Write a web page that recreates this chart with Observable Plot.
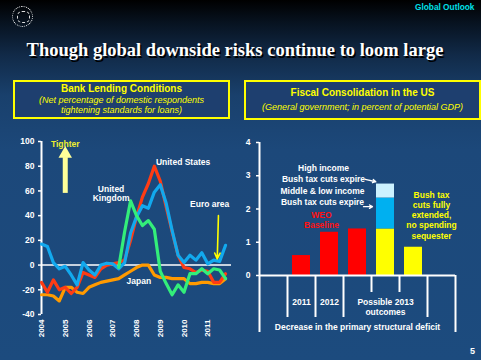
<!DOCTYPE html>
<html><head><meta charset="utf-8">
<script src="https://cdn.jsdelivr.net/npm/d3@7"></script>
<script src="https://cdn.jsdelivr.net/npm/@observablehq/plot@0.6"></script>
<style>
body{margin:0;background:#000;}
#slide{position:relative;width:481px;height:360px;overflow:hidden;
  background:linear-gradient(to bottom,#000000 0px,#07121f 22px,#112a48 55px,#19406c 95px,#1c487a 150px,#1c4b7e 360px);
  font-family:"Liberation Sans",Arial,sans-serif;color:#fff;}
.abs{position:absolute;}
#brand{left:415px;top:2px;font-size:8.3px;font-weight:bold;color:#00e0e8;white-space:nowrap;}
#logo{left:12px;top:6px;width:19px;height:19px;border:1.5px dotted #fff;border-radius:50%;}
#logo2{left:17px;top:11px;width:11px;height:10px;border:1.5px dashed #ddd;border-radius:40%;}
#title{left:0;width:470px;top:40px;text-align:center;font-family:"Liberation Serif","Times New Roman",serif;font-weight:bold;font-size:18.5px;color:#fff;text-shadow:1.5px 1.5px 0 #000;white-space:nowrap;}
.box{box-sizing:border-box;border:2px solid #ffff00;background:#1e3f6f;color:#ffff00;text-align:center;white-space:nowrap;}
.bt{font-weight:bold;font-size:10px;line-height:12px;}
.bs{font-style:italic;font-size:9px;}
#box1{left:13px;top:80px;width:217px;height:39px;}
#box1 .bt{margin-top:1px;}
#box1 .bs{line-height:10px;}
#box2{left:244px;top:80px;width:237px;height:40px;}
#box2 .bt{margin-top:5px;}
#box2 .bs{line-height:12px;margin-top:2px;}
#chart1{left:0;top:130px;}
#chart2{left:240px;top:130px;}
#page{left:470px;top:346px;font-size:9px;font-weight:bold;}
</style></head><body>
<div id="slide">
  <div id="logo" class="abs"></div><div id="logo2" class="abs"></div>
  <div id="brand" class="abs">Global Outlook</div>
  <div id="title" class="abs">Though global downside risks continue to loom large</div>
  <div id="box1" class="abs box"><div class="bt">Bank Lending Conditions</div><div class="bs">(Net percentage of domestic respondents<br>tightening standards for loans)</div></div>
  <div id="box2" class="abs box"><div class="bt">Fiscal Consolidation in the US</div><div class="bs">(General government; in percent of potential GDP)</div></div>
  <div id="chart1" class="abs"></div>
  <div id="chart2" class="abs"></div>
  <div id="page" class="abs">5</div>
</div>
<script>
// ---------- Bank lending conditions (quarterly, 2004Q1 - 2011Q4) ----------
const startYear = 2004;
const quarterStep = 0.25;
const usValues    = [-14,-22,-12,-20,-18,-23,-18,-6,-8,-10,-3,0,1,2,4,20,39,55,66,80,68,47,27,8,-2,-3,-6,-4,-5,-14,-14,-7];
const euroValues  = [17,15,2,-3,-1,-8,-16,2,-4,-8,0,1.5,1,-3,2,26,39,48,46,59,65,50,28,8,2,8,4,10,1,4,3,16];
const ukValues    = [null,null,null,null,null,null,null,null,null,null,null,null,null,-2,27,52,40,32,36,29,-5,-15,-24,-16,-22,-7,-7,-3,-7,-3,-4,-11];
const japanValues = [-24,-24,-25,-29,-18,-18,-22,-23,-18,-16,-14,-13,-12,-11,-8,-5,-2,0,0,-8,-10,-10,-11,-11,-11,-15,-15,-14,-14,-15,-15,-11];
const yearTicks = [2004,2005,2006,2007,2008,2009,2010,2011];
const lendingTicks = [-40,-20,0,20,40,60,80,100];

// ---------- Fiscal consolidation in the US ----------
const fiscalSlots = ["pre","2011","2012","baseline","expire","extended","post"];
const fiscalBarSlots  = ["2011","2012","baseline","expire","expire","expire","extended"];
const fiscalBarParts  = ["outturn","outturn","outturn","core","midlow","high","core"];
const fiscalBarValues = [0.6,1.3,1.4,1.4,0.93,0.42,0.85];
const fiscalParts = ["outturn","core","midlow","high"];
const fiscalPartColors = ["#ff0000","#ffff00","#00b0f0","#ccf2ff"];
const fiscalTicks = [0,1,2,3,4];

function rows(values){
  return values.map((v,i)=>({t:startYear+i*quarterStep, v})).filter(d=>d.v!==null);
}
const lineW = 3.2;
const font = {fontFamily:"'Liberation Sans',Arial,sans-serif",fontSize:"8.5px",fontWeight:"bold",color:"white",background:"transparent",overflow:"visible"};

const left = Plot.plot({
  width:240, height:215, marginLeft:41, marginRight:9, marginTop:11, marginBottom:31,
  style:font,
  x:{domain:[2004,2012]},
  y:{domain:[-40,100]},
  marks:[
    Plot.ruleY([0],{stroke:"white",strokeWidth:1.5}),
    Plot.ruleX([startYear],{stroke:"white",strokeWidth:2}),
    Plot.axisY({ticks:lendingTicks,tickFormat:d=>String(d),tickSize:3,tickPadding:4,label:null,strokeWidth:1.5}),
    Plot.axisX({ticks:yearTicks,tickFormat:d=>String(d),tickRotate:-90,tickSize:0,tickPadding:5,label:null,fontSize:8}),
    Plot.line(rows(japanValues),{x:"t",y:"v",stroke:"#ff9a00",strokeWidth:lineW}),
    Plot.line(rows(usValues),{x:"t",y:"v",stroke:"#ff3c14",strokeWidth:lineW}),
    Plot.line(rows(euroValues),{x:"t",y:"v",stroke:"#12a9ee",strokeWidth:lineW}),
    Plot.line(rows(ukValues),{x:"t",y:"v",stroke:"#33ee7a",strokeWidth:lineW}),
    // "Tighter" arrow
    Plot.ruleX([2005],{y1:58,y2:87,stroke:"#ffff99",strokeWidth:5}),
    Plot.dot([2005],{x:d=>d,y:90,symbol:"triangle",r:5,fill:"#ffff99",stroke:null}),
    Plot.text(["Tighter"],{x:2005,y:97.6,text:d=>d,fill:"#eeee30"}),
    Plot.text(["United States"],{x:2009.96,y:83,text:d=>d,fill:"white"}),
    Plot.text(["United\nKingdom"],{x:2006.93,y:57.7,text:d=>d,fill:"white",lineHeight:1.1}),
    Plot.text(["Euro area"],{x:2011.08,y:49.4,text:d=>d,fill:"white"}),
    Plot.text(["Japan"],{x:2008.1,y:-13.5,text:d=>d,fill:"white"}),
    Plot.arrow([0],{x1:2011.45,y1:40,x2:2011.4,y2:5,stroke:"#ffff00",strokeWidth:1.6,headLength:6,headAngle:50})
  ]
});
document.getElementById("chart1").appendChild(left);

const bars = fiscalBarValues.map((v,i)=>({slot:fiscalBarSlots[i], part:fiscalBarParts[i], value:v}));
const right = Plot.plot({
  width:241, height:210, marginLeft:19, marginRight:26, marginTop:12, marginBottom:65,
  style:font,
  x:{domain:fiscalSlots,padding:0},
  y:{domain:[0,4]},
  color:{domain:fiscalParts,range:fiscalPartColors},
  marks:[
    Plot.barY(bars,{x:"slot",y:"value",fill:"part",insetLeft:5,insetRight:5}),
    Plot.ruleY([0],{stroke:"white",strokeWidth:2}),
    Plot.ruleX(["pre"],{x:d=>d,dx:-14,stroke:"white",strokeWidth:2}),
    Plot.axisY({ticks:fiscalTicks,tickFormat:d=>String(d),tickSize:3,tickPadding:6,label:null,strokeWidth:1.5}),
    Plot.axisX({ticks:["2011","2012","baseline","post"],tickSize:42,tickFormat:()=>"",dx:-14,label:null,strokeWidth:2}),
    Plot.axisX({ticks:["expire","extended"],tickSize:17,tickFormat:()=>"",dx:-14,label:null,strokeWidth:2}),
    Plot.axisX({ticks:["pre"],tickSize:57,tickFormat:()=>"",dx:-14,label:null,strokeWidth:2}),
    Plot.axisX({ticks:["post"],tickSize:57,tickFormat:()=>"",dx:14,label:null,strokeWidth:2}),
    Plot.text(["2011","2012"],{x:d=>d,frameAnchor:"bottom",lineAnchor:"top",dy:23,text:d=>d,fill:"white"}),
    Plot.text(["Possible 2013\noutcomes"],{x:()=>"expire",frameAnchor:"bottom",lineAnchor:"top",dy:23,text:d=>d,fill:"white",lineHeight:1.12}),
    Plot.text(["Decrease in the primary structural deficit"],{frameAnchor:"bottom",lineAnchor:"top",dy:48,text:d=>d,fill:"white"}),
    Plot.text(["High income\nBush tax cuts expire"],{x:()=>"baseline",y:2.75,dx:-34,dy:-11,text:d=>d,fill:"white",lineHeight:1.3}),
    Plot.text(["Middle & low income\nBush tax cuts expire"],{x:()=>"baseline",y:2.33,dx:-35,dy:-2,text:d=>d,fill:"white",lineHeight:1.3}),
    Plot.text(["WEO\nBaseline"],{x:()=>"baseline",y:1.4,dx:-36,dy:-9.5,text:d=>d,fill:"#ff1010",lineHeight:1.2}),
    Plot.text(["Bush tax\ncuts fully\nextended,\nno spending\nsequester"],{x:()=>"extended",y:0.85,dx:18,dy:-32,text:d=>d,fill:"#ffff00",lineHeight:1.18}),
    Plot.arrow([0],{x1:()=>"baseline",y1:2.95,x2:()=>"expire",y2:2.75,insetStart:8,insetEnd:10,stroke:"white",strokeWidth:1.3,headLength:4}),
    Plot.arrow([0],{x1:()=>"baseline",y1:2.07,x2:()=>"expire",y2:2.07,insetStart:6,insetEnd:13,stroke:"white",strokeWidth:1.3,headLength:4})
  ]
});
document.getElementById("chart2").appendChild(right);
</script>
</body></html>
